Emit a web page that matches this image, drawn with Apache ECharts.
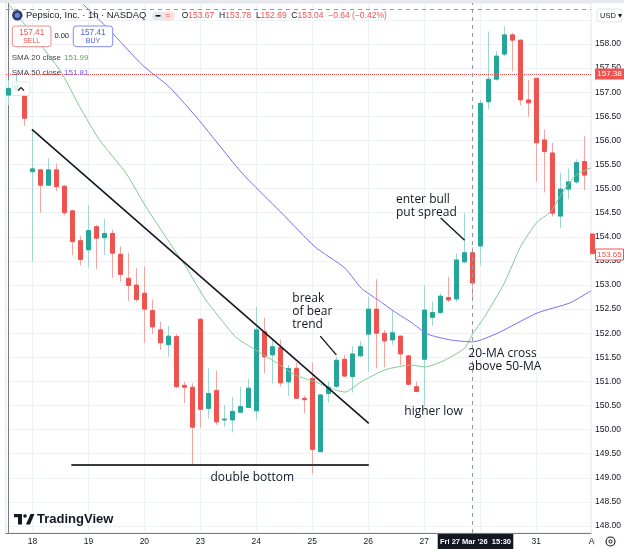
<!DOCTYPE html>
<html>
<head>
<meta charset="utf-8">
<script src="https://cdn.jsdelivr.net/npm/echarts@6/dist/echarts.min.js"></script>
<style>
  html, body { margin: 0; padding: 0; background: #fff; }
  #chart { width: 624px; height: 549px; }
</style>
</head>
<body>
<div id="chart"></div>
<script>
// PEP 1h bars, index 0 = Tue 17 Mar 13:30, 7 bars per session
const opens = [156.94, 157.05, 156.94, 155.35, 155.39, 155.07, 155.39, 155.05, 154.54, 153.92,
  153.73, 154.21, 153.98, 154.07, 153.64, 153.14, 153.00, 152.83, 152.47, 152.07,
  151.76, 151.93, 150.92, 150.88, 152.29, 150.44, 150.81, 150.20, 150.20, 150.36,
  150.46, 150.39, 152.03, 151.55, 151.70, 150.99, 151.27, 150.65, 151.06, 149.54,
  150.75, 150.90, 151.46, 151.10, 151.53, 151.98, 152.50, 152.00, 151.86, 151.94,
  151.53, 150.89, 151.46, 152.33, 152.43, 152.74, 152.71, 153.48, 153.67, 153.81,
  156.80, 157.27, 157.79, 158.19, 158.08, 156.84, 157.29, 156.01, 155.74, 154.43,
  154.99, 155.14, 155.56, 154.06];
const closes = [157.08, 157.15, 156.46, 155.41, 155.07, 155.39, 155.04, 154.50, 153.90, 153.53,
  154.13, 153.97, 154.07, 153.66, 153.22, 152.99, 152.70, 152.50, 152.13, 151.80,
  151.94, 150.89, 150.88, 150.05, 150.42, 150.75, 150.16, 150.22, 150.38, 150.48,
  150.86, 152.07, 151.51, 151.72, 150.97, 151.27, 150.65, 150.62, 149.59, 150.72,
  150.88, 151.44, 151.11, 151.57, 151.72, 152.50, 152.00, 151.84, 152.01, 151.57,
  150.94, 150.79, 152.48, 152.43, 152.77, 152.69, 153.52, 153.67, 153.04, 156.77,
  157.27, 157.75, 158.19, 158.08, 156.84, 156.78, 155.95, 155.77, 154.49, 154.99,
  155.14, 155.54, 155.28, 153.65];
const lows = [156.73, 157.00, 156.30, 153.48, 154.50, 155.05, 154.95, 154.45, 153.62, 153.41,
  153.36, 153.33, 153.62, 153.15, 153.07, 152.67, 152.65, 151.80, 151.98, 151.65,
  151.51, 150.86, 150.55, 149.27, 150.04, 150.23, 150.10, 150.06, 149.94, 150.36,
  150.46, 150.21, 151.17, 150.95, 150.89, 150.70, 150.64, 150.34, 149.09, 149.54,
  150.56, 150.86, 151.10, 150.77, 151.50, 151.20, 151.27, 151.29, 151.76, 151.34,
  150.94, 150.79, 150.48, 152.15, 152.40, 152.65, 152.65, 153.45, 152.69, 153.41,
  156.65, 157.24, 157.75, 157.43, 156.73, 156.49, 155.14, 154.92, 154.42, 154.18,
  154.78, 155.10, 154.97, 153.60];
const highs = [157.25, 157.36, 157.00, 156.23, 155.41, 155.63, 155.52, 155.07, 154.55, 154.02,
  154.66, 154.24, 154.37, 154.15, 153.80, 153.67, 153.35, 153.38, 152.70, 152.24,
  152.15, 151.98, 150.99, 150.96, 152.31, 151.27, 151.22, 150.51, 150.68, 150.89,
  151.05, 152.55, 152.32, 151.86, 151.87, 151.34, 151.39, 150.70, 151.39, 150.72,
  150.99, 151.51, 151.55, 151.73, 151.84, 152.76, 153.12, 152.07, 152.48, 151.95,
  151.55, 150.99, 152.99, 152.66, 152.83, 153.17, 153.66, 154.49, 153.78, 156.84,
  158.26, 157.86, 158.37, 158.23, 158.10, 157.25, 157.29, 156.23, 155.95, 155.33,
  155.42, 155.61, 156.09, 154.10];

// moving averages (bar index, price)
const sma20Idx = [0, 6.42, 8.91, 11.39, 14.71, 17.2, 20.51, 22.18, 24.66, 25.95, 28.43, 30.92,
  33.41, 35.89, 38.38, 40.87, 42.11, 44.1, 47.09, 50.32, 52.06, 54.55, 57.04, 58.03,
  59.53, 62.01, 64.01, 66.12, 67.73, 69.48, 71.09, 72.84];
const sma20Val = [158.83, 157.46, 156.70, 156.01, 155.32, 154.62, 153.79, 153.38, 152.69, 152.42,
  151.92, 151.65, 151.40, 151.13, 150.99, 150.82, 150.78, 150.99, 151.24, 151.34, 151.30,
  151.44, 151.69, 151.98, 152.34, 153.04, 153.79, 154.31, 154.51, 154.97, 155.30, 155.43];
const sma50Idx = [9.32, 12.64, 16.78, 20.1, 23.83, 29.22, 34.19, 38.35, 42.08, 44.14, 46.22,
  48.33, 50.32, 52.44, 55.3, 58.04, 61.14, 66.12, 70.22, 72.84];
const sma50Val = [158.83, 158.29, 157.56, 157.11, 156.42, 155.32, 154.49, 153.79, 153.35, 152.93,
  152.69, 152.44, 152.23, 151.98, 151.86, 151.82, 152.00, 152.42, 152.63, 152.88];

const dayTicks = [3, 10, 17, 24, 31, 38, 45, 52, 59, 66];
const dayLabels = ['18', '19', '20', '23', '24', '25', '26', '27', '30', '31'];
const priceTicks = [148, 148.5, 149, 149.5, 150, 150.5, 151, 151.5, 152, 152.5, 153, 153.5,
  154, 154.5, 155, 155.5, 156, 156.5, 157, 157.5, 158, 158.5];
const priceLabels = priceTicks.slice(0, -1);

// drawn annotations (bar index, price)
const trendLine = [[2.94, 156.23], [45.06, 150.13]];
const doubleBottom = [[7.87, 149.27], [45.06, 149.27]];
const breakPointer = [[38.99, 151.94], [41.0, 151.55]];
const enterPointer = [[54.05, 154.39], [57.04, 153.93]];
const lastPrice = 157.38;
const crossBar = 58;
const crossPrice = 158.73;

const UI = '"Liberation Sans", Arial, sans-serif';
const NOTE = '"Open Sans", sans-serif';
const UP = '#26a69a', DOWN = '#ef5350';

const chart = echarts.init(document.getElementById('chart'));

const fullBars = opens.map((o, i) => [i, o, closes[i], lows[i], highs[i]]);
const bodyBars = opens.map((o, i) => [i, o, closes[i], Math.min(o, closes[i]), Math.max(o, closes[i])]);

function seg(pts, color, width, type) {
  return [
    { coord: pts[0], lineStyle: { color: color, width: width, type: type || 'solid' } },
    { coord: pts[1] }
  ];
}

function txt(x, y, text, opt) {
  return {
    type: 'text', z: 100, silent: true,
    style: Object.assign({
      x: x, y: y, text: text, fill: '#131722', fontSize: 8.5, fontFamily: UI,
      verticalAlign: 'middle', align: 'left'
    }, opt || {})
  };
}

function box(x, y, w, h, opt) {
  return {
    type: 'rect', z: (opt && opt.z) || 99, silent: true,
    shape: { x: x, y: y, width: w, height: h, r: (opt && opt.r) || 0 },
    style: Object.assign({ fill: '#fff' }, opt && opt.style)
  };
}

const option = {
  animation: false,
  backgroundColor: '#fff',
  grid: { left: 6, right: 30, top: 3, bottom: 16, show: true, borderColor: '#e0e3eb', borderWidth: 1 },
  xAxis: {
    type: 'value', min: -0.3, max: 72.84,
    axisLine: { lineStyle: { color: '#787b86' } },
    axisTick: { show: false, customValues: dayTicks },
    axisLabel: {
      customValues: dayTicks, color: '#131722', fontSize: 8.5, fontFamily: UI, margin: 4,
      formatter: v => dayLabels[dayTicks.indexOf(v)]
    },
    splitLine: { show: true, lineStyle: { color: '#eef1f6' } }
  },
  yAxis: {
    type: 'value', position: 'right', min: 147.855, max: 158.851,
    axisLine: { show: true, lineStyle: { color: '#787b86' } },
    axisTick: { show: false, customValues: priceTicks },
    axisLabel: {
      customValues: priceLabels, color: '#131722', fontSize: 8.5, fontFamily: UI, margin: 4,
      formatter: v => v.toFixed(2)
    },
    splitLine: { show: true, lineStyle: { color: '#eef1f6' } }
  },
  series: [
    {
      name: 'wicks', type: 'candlestick', data: fullBars, barWidth: 1, z: 2,
      itemStyle: { color: '#9fd8d1', color0: '#f6a5a3', borderColor: '#9fd8d1', borderColor0: '#f6a5a3', borderWidth: 1 }
    },
    {
      name: 'bodies', type: 'candlestick', data: bodyBars, barWidth: 5, z: 3,
      itemStyle: { color: UP, color0: DOWN, borderColor: UP, borderColor0: DOWN, borderWidth: 1 },
      markLine: {
        silent: true, symbol: 'none', animation: false, label: { show: false },
        data: [
          { yAxis: lastPrice, lineStyle: { color: DOWN, width: 1, type: 'dotted' } },
          { xAxis: crossBar, lineStyle: { color: '#9598a1', width: 1, type: [4, 4] } },
          { yAxis: crossPrice, lineStyle: { color: '#9598a1', width: 1, type: [4, 4] } },
          seg(trendLine, '#131722', 1.6),
          seg(doubleBottom, '#3a3a3a', 2),
          seg(breakPointer, '#131722', 1.4),
          seg(enterPointer, '#131722', 1.4)
        ]
      }
    },
    {
      name: 'SMA 20', type: 'line', z: 4, showSymbol: false, smooth: 0.2,
      data: sma20Idx.map((x, k) => [x, sma20Val[k]]),
      lineStyle: { color: '#81c995', width: 1 }
    },
    {
      name: 'SMA 50', type: 'line', z: 4, showSymbol: false, smooth: 0.2,
      data: sma50Idx.map((x, k) => [x, sma50Val[k]]),
      lineStyle: { color: '#7b6ef6', width: 1 }
    }
  ],
  graphic: { elements: [] }
};

const g = option.graphic.elements;
// frame strip on top
g.push(box(0, 0, 624, 3, { style: { fill: '#e6e8ee' } }));
// header
g.push({ type: 'circle', z: 100, silent: true, shape: { cx: 17.3, cy: 15.3, r: 5.2 }, style: { fill: '#2c3d78' } });
g.push({ type: 'circle', z: 101, silent: true, shape: { cx: 17.3, cy: 15.3, r: 2.6 }, style: { fill: '#6f86c9' } });
g.push(txt(26, 15.5, 'Pepsico, Inc. · 1h · NASDAQ', { fontSize: 9.4 }));
g.push(box(151.7, 11.5, 23.3, 9, { r: 4.5, style: { fill: '#e6e8ee' } }));
g.push(box(163.3, 11.5, 11.7, 9, { r: 4.5, style: { fill: '#fbe1e1' } }));
g.push(box(155.5, 15, 5, 1.6, { style: { fill: '#131722' } }));
g.push(txt(165.5, 15.5, '≈', { fill: DOWN, fontSize: 8 }));
g.push({
  type: 'text', z: 100, silent: true,
  style: {
    x: 181.7, y: 15.5, verticalAlign: 'middle', fontFamily: UI, fontSize: 8.5,
    text: '{l|O}{v|153.67}  {l|H}{v|153.78}  {l|L}{v|152.69}  {l|C}{v|153.04}  {v|−0.64 (−0.42%)}',
    rich: {
      l: { fill: '#131722', fontSize: 8.5, fontFamily: UI },
      v: { fill: DOWN, fontSize: 8.5, fontFamily: UI }
    }
  }
});
// sell / buy
g.push(box(12.3, 26, 38.7, 20.7, { r: 3, style: { fill: '#fff', stroke: '#f28b88', lineWidth: 1 } }));
g.push(txt(31.7, 32.3, '157.41', { fill: DOWN, fontSize: 8.2, align: 'center' }));
g.push(txt(31.7, 41.3, 'SELL', { fill: DOWN, fontSize: 7, align: 'center' }));
g.push(txt(61.7, 36.3, '0.00', { fontSize: 7.5, align: 'center' }));
g.push(box(73.3, 26, 39.4, 20.7, { r: 3, style: { fill: '#fff', stroke: '#7f8cf5', lineWidth: 1 } }));
g.push(txt(93, 32.3, '157.41', { fill: '#4a5cf0', fontSize: 8.2, align: 'center' }));
g.push(txt(93, 41.3, 'BUY', { fill: '#4a5cf0', fontSize: 7, align: 'center' }));
// indicator legend
g.push(txt(11.7, 57.7, 'SMA 20 close', { fontSize: 8, fill: '#434651' }));
g.push(txt(64, 57.7, '151.99', { fontSize: 8, fill: '#4caf50' }));
g.push(txt(11.7, 72.7, 'SMA 50 close', { fontSize: 8, fill: '#434651' }));
g.push(txt(64, 72.7, '151.81', { fontSize: 8, fill: '#6a5cf2' }));
g.push(box(12.3, 82, 17.7, 13.5, { r: 2, style: { fill: 'rgba(255,255,255,0.85)', stroke: '#e0e3eb', lineWidth: 1 } }));
g.push({ type: 'polyline', z: 101, silent: true, shape: { points: [[18, 90.5], [21, 87.5], [24, 90.5]] }, style: { stroke: '#131722', lineWidth: 1.2, fill: null } });
// price scale labels
g.push(box(595, 68.5, 29, 11, { style: { fill: DOWN } }));
g.push(txt(609.5, 74.2, '157.38', { fill: '#fff', fontSize: 8, align: 'center' }));
g.push(box(595.5, 249, 28, 11, { style: { fill: '#fff', stroke: DOWN, lineWidth: 1 } }));
g.push(txt(609.5, 254.7, '153.65', { fill: DOWN, fontSize: 8, align: 'center' }));
g.push(box(597, 9, 25, 13, { r: 3, style: { fill: '#fff', stroke: '#e0e3eb', lineWidth: 1 } }));
g.push(txt(600, 15.7, 'USD ▾', { fontSize: 7.5 }));
// time scale extras
g.push(txt(595.3, 541.5, 'Apr', { align: 'center', z: 90 }));
g.push(box(594.5, 533.5, 29.5, 15.5, { z: 102, style: { fill: '#fff' } }));
g.push({ type: 'circle', z: 103, silent: true, shape: { cx: 610.5, cy: 541.5, r: 4.5 }, style: { fill: null, stroke: '#131722', lineWidth: 1.1 } });
g.push({ type: 'circle', z: 103, silent: true, shape: { cx: 610.5, cy: 541.5, r: 1.6 }, style: { fill: null, stroke: '#131722', lineWidth: 1 } });
g.push(box(437.7, 534, 75.6, 15, { style: { fill: '#131722' } }));
g.push(txt(475.5, 541.5, "Fri 27 Mar '26  15:30", { fill: '#fff', fontSize: 7.5, fontWeight: 'bold', align: 'center' }));
// watermark
g.push(box(14, 514, 8, 3.2, { style: { fill: '#131722' } }));
g.push(box(18, 514, 4, 10.5, { style: { fill: '#131722' } }));
g.push({ type: 'circle', z: 100, silent: true, shape: { cx: 25, cy: 516, r: 1.8 }, style: { fill: '#131722' } });
g.push({ type: 'polygon', z: 100, silent: true, shape: { points: [[26, 524.5], [30.5, 514], [34.5, 514], [30, 524.5]] }, style: { fill: '#131722' } });
g.push(txt(37, 519.5, 'TradingView', { fontSize: 13, fontWeight: 'bold' }));
// annotation text
g.push(txt(292.3, 299, 'break', { fontSize: 12, fontFamily: NOTE }));
g.push(txt(292.3, 312, 'of bear', { fontSize: 12, fontFamily: NOTE }));
g.push(txt(292.3, 325, 'trend', { fontSize: 12, fontFamily: NOTE }));
g.push(txt(396, 199.3, 'enter bull', { fontSize: 12, fontFamily: NOTE }));
g.push(txt(396, 212.3, 'put spread', { fontSize: 12, fontFamily: NOTE }));
g.push(txt(404.3, 411.7, 'higher low', { fontSize: 12, fontFamily: NOTE }));
g.push(txt(468.3, 354, '20-MA cross', { fontSize: 12, fontFamily: NOTE }));
g.push(txt(468.3, 366.7, 'above 50-MA', { fontSize: 12, fontFamily: NOTE }));
g.push(txt(252.3, 477.7, 'double bottom', { fontSize: 12, fontFamily: NOTE, align: 'center' }));

chart.setOption(option);
</script>
</body>
</html>
